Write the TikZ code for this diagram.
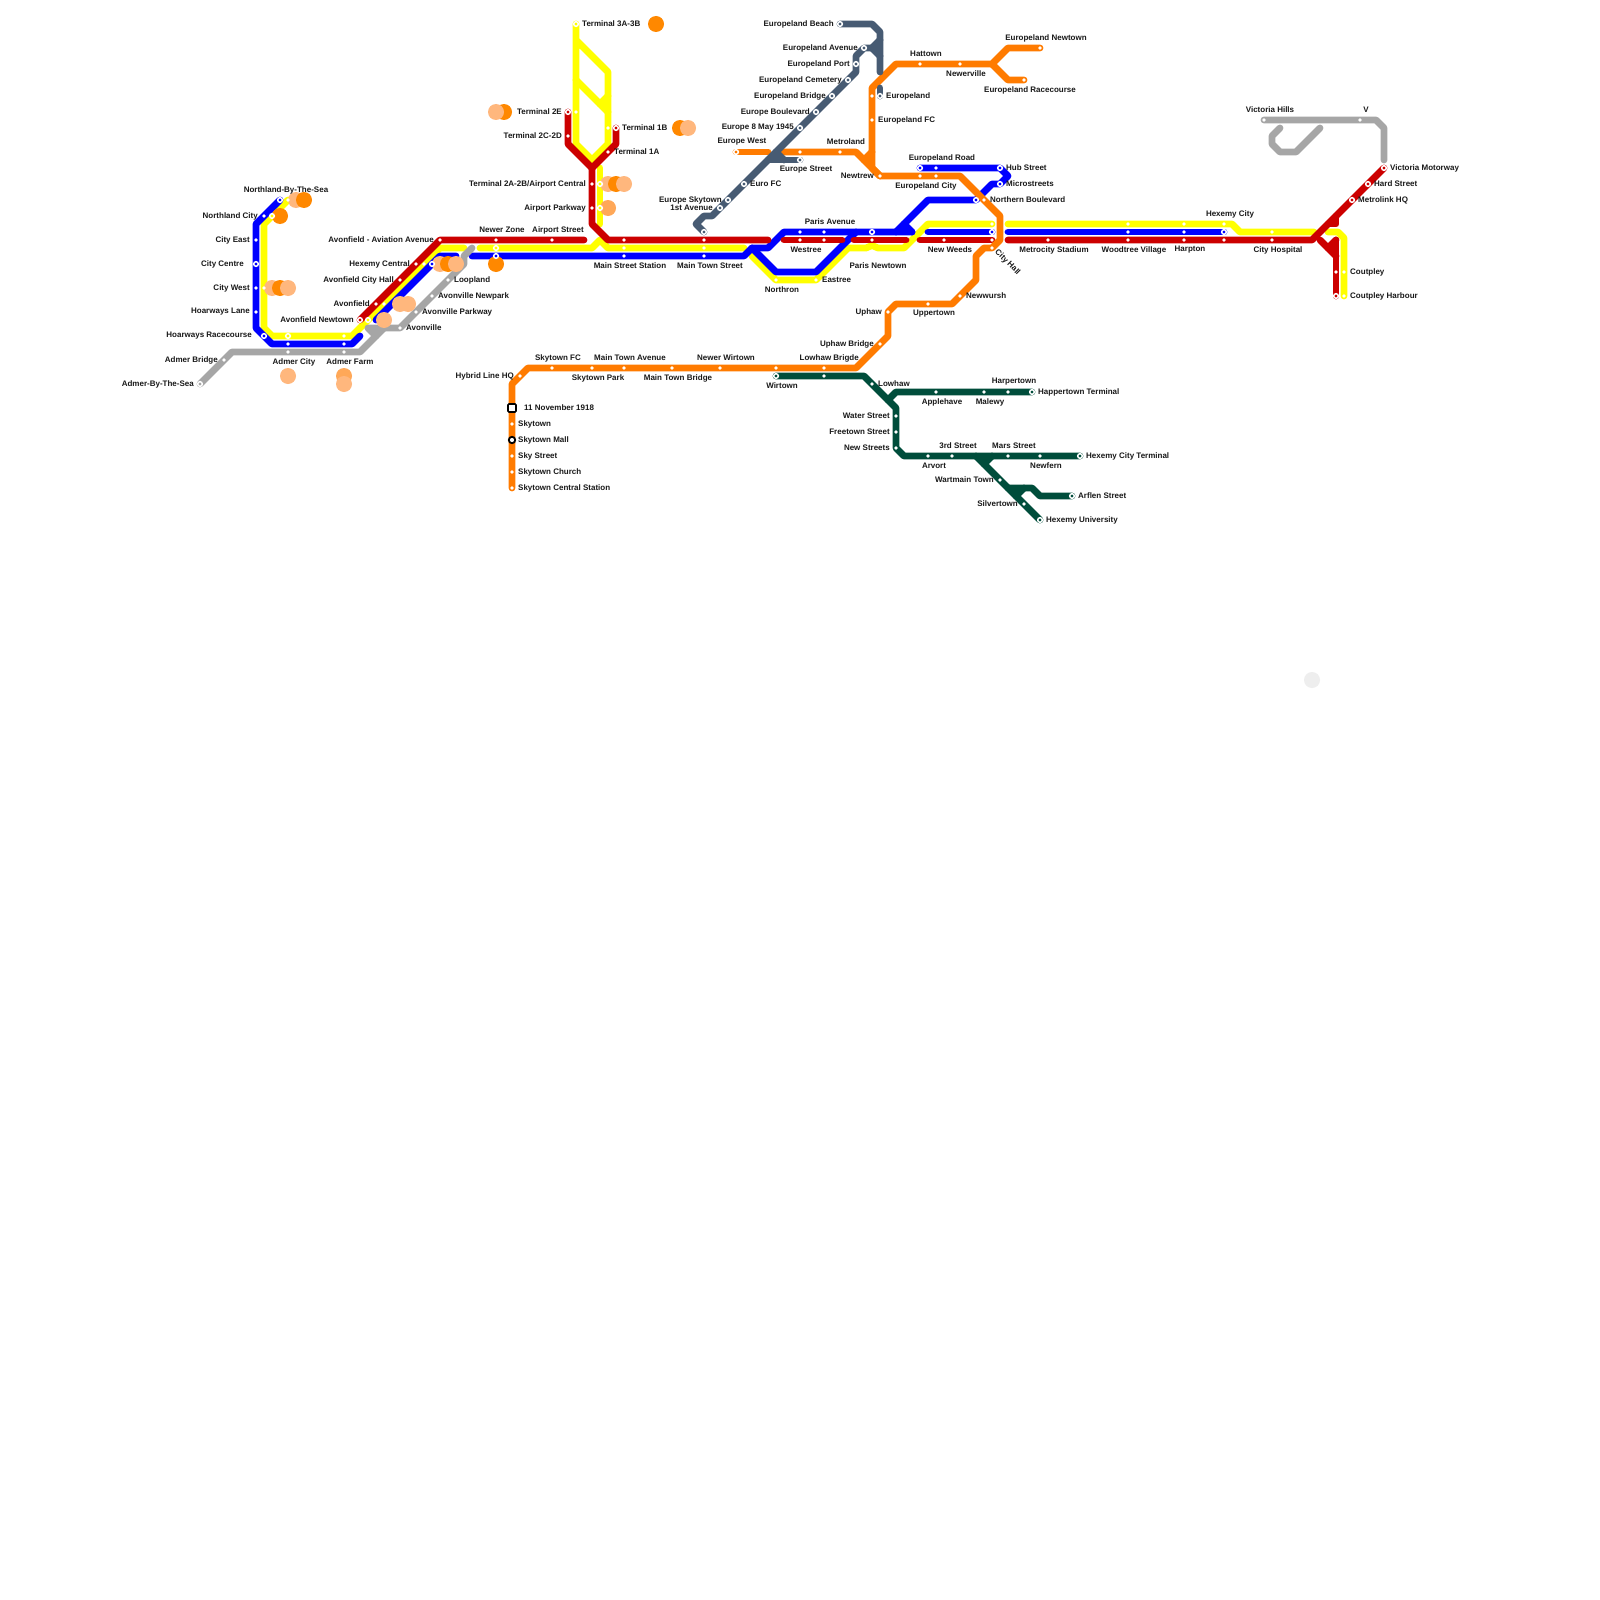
\documentclass[tikz,border=0pt]{standalone}
\usepackage{fontspec}
\setmainfont{Liberation Sans}
\pgfdeclarelayer{lines}
\pgfdeclarelayer{blobs}
\pgfsetlayers{lines,blobs,main}
\definecolor{cO}{HTML}{FF7B00}
\definecolor{cR}{HTML}{CC0000}
\definecolor{cB}{HTML}{0000FF}
\definecolor{cY}{HTML}{FFFF00}
\definecolor{cA}{HTML}{A6A6A6}
\definecolor{cG}{HTML}{004D3B}
\definecolor{cS}{HTML}{475B73}
\definecolor{bO}{HTML}{FF8800}
\definecolor{bL}{HTML}{FFB77D}
\definecolor{bM}{HTML}{FFA858}
\definecolor{bE}{HTML}{EEEEEE}
\tikzset{
  x=1pt,y=-1pt,
  dot/.style={circle,inner sep=0pt,minimum size=3.8pt,fill=white},
  ring/.style={circle,inner sep=0pt,minimum size=4.6pt,line width=1.5pt,draw=white,fill=#1},
  rail/.style={draw=#1,line width=6.8pt,line cap=round,line join=round},
  blob/.style={circle,inner sep=0pt,minimum size=16pt,fill=#1},
  sq/.style={draw=black,fill=white,line width=1.6pt,rounded corners=1pt,inner sep=0pt,minimum size=8pt},
  bl/.style={circle,draw=black,fill=white,line width=1.8pt,inner sep=0pt,minimum size=6.4pt},
  lab/.style={font=\fontsize{8}{9}\selectfont\bfseries,inner sep=0pt,text=black!90,yshift=-1pt},
  lw/.style={lab,anchor=west},
  le/.style={lab,anchor=east},
  lc/.style={lab,anchor=center},
}
\begin{document}
\begin{tikzpicture}
\useasboundingbox (0,0) rectangle (1600,1600);
\begin{pgfonlayer}{lines}\fill[white] (0,0) rectangle (1600,1600);\end{pgfonlayer}

% ---------- stations
% yellow
\node[dot] (y1) at (288,200) {};
\node[ring=cY] (y2) at (272,216) {};
\node[dot] (y3) at (264,288) {};
\node[ring=cY] (y4) at (288,336) {};
\node[dot] (y5) at (344,336) {};
\node[ring=cY] (y6) at (368,320) {};
\node[dot] (y7) at (384,304) {};
\node[dot] (y8) at (424,264) {};
\node[ring=cY] (y9) at (496,248) {};
\node[dot] (y10) at (624,248) {};
\node[dot] (y11) at (704,248) {};
\node[dot] (y12) at (776,280) {};
\node[dot] (y13) at (816,280) {};
\node[dot] (y14) at (992,224) {};
\node[dot] (y15) at (1128,224) {};
\node[dot] (y16) at (1184,224) {};
\node[dot] (y17) at (1224,224) {};
\node[dot] (y18) at (1272,232) {};
\node[dot] (y19) at (1344,272) {};
\node[dot] (y20) at (1344,296) {};
\node[ring=cY] (y21) at (576,24) {};
\node[dot] (y22) at (576,112) {};
\node[dot] (y23) at (608,128) {};
\node[ring=cY] (y24) at (600,184) {};
\node[ring=cY] (y25) at (600,208) {};
% blue
\node[ring=cB] (b1) at (280,200) {};
\node[dot] (b2) at (264,216) {};
\node[dot] (b3) at (256,240) {};
\node[ring=cB] (b4) at (256,264) {};
\node[dot] (b5) at (256,288) {};
\node[dot] (b6) at (256,312) {};
\node[ring=cB] (b7) at (264,336) {};
\node[dot] (b8) at (288,344) {};
\node[dot] (b9) at (344,344) {};
\node[ring=cB] (b10) at (432,264) {};
\node[ring=cB] (b11) at (496,256) {};
\node[dot] (b12) at (624,256) {};
\node[dot] (b13) at (704,256) {};
\node[dot] (b14) at (800,232) {};
\node[dot] (b15) at (824,232) {};
\node[ring=cB] (b16) at (872,232) {};
\node[ring=cB] (b17) at (992,232) {};
\node[dot] (b18) at (1128,232) {};
\node[dot] (b19) at (1184,232) {};
\node[ring=cB] (b20) at (1224,232) {};
\node[ring=cB] (b21) at (976,200) {};
\node[ring=cB] (b22) at (1000,184) {};
\node[ring=cB] (b23) at (1000,168) {};
\node[dot] (b24) at (936,168) {};
\node[ring=cB] (b25) at (920,168) {};
% red
\node[ring=cR] (r1) at (360,320) {};
\node[dot] (r2) at (376,304) {};
\node[dot] (r3) at (400,280) {};
\node[dot] (r4) at (416,264) {};
\node[dot] (r5) at (440,240) {};
\node[dot] (r6) at (496,240) {};
\node[dot] (r7) at (552,240) {};
\node[dot] (r8) at (624,240) {};
\node[dot] (r9) at (704,240) {};
\node[dot] (r10) at (800,240) {};
\node[dot] (r11) at (824,240) {};
\node[dot] (r12) at (872,240) {};
\node[dot] (r13) at (944,240) {};
\node[dot] (r14) at (992,240) {};
\node[dot] (r15) at (1048,240) {};
\node[dot] (r16) at (1128,240) {};
\node[dot] (r17) at (1184,240) {};
\node[dot] (r18) at (1224,240) {};
\node[dot] (r19) at (1272,240) {};
\node[ring=cR] (r20) at (1384,168) {};
\node[ring=cR] (r21) at (1368,184) {};
\node[ring=cR] (r22) at (1352,200) {};
\node[dot] (r23) at (1336,272) {};
\node[ring=cR] (r24) at (1336,296) {};
\node[ring=cR] (r25) at (568,112) {};
\node[dot] (r26) at (568,136) {};
\node[ring=cR] (r27) at (616,128) {};
\node[dot] (r28) at (608,152) {};
\node[dot] (r29) at (592,184) {};
\node[dot] (r30) at (592,208) {};
% grey
\node[ring=cA] (a1) at (200,384) {};
\node[dot] (a2) at (224,360) {};
\node[dot] (a3) at (288,352) {};
\node[dot] (a4) at (344,352) {};
\node[dot] (a5) at (400,328) {};
\node[dot] (a6) at (416,312) {};
\node[dot] (a7) at (432,296) {};
\node[dot] (a8) at (448,280) {};
\node[dot] (a9) at (1264,120) {};
\node[dot] (a10) at (1360,120) {};
% orange
\node[ring=cO] (o1) at (736,152) {};
\node[dot] (o2) at (800,152) {};
\node[dot] (o3) at (840,152) {};
\node[dot] (o4) at (872,96) {};
\node[dot] (o5) at (872,120) {};
\node[dot] (o6) at (920,64) {};
\node[dot] (o7) at (960,64) {};
\node[dot] (o8) at (1040,48) {};
\node[dot] (o9) at (1024,80) {};
\node[dot] (o10) at (880,176) {};
\node[dot] (o11) at (920,176) {};
\node[dot] (o12) at (936,176) {};
\node[dot] (o13) at (984,200) {};
\node[dot] (o14) at (992,248) {};
\node[dot] (o15) at (960,296) {};
\node[dot] (o16) at (928,304) {};
\node[dot] (o17) at (888,312) {};
\node[dot] (o18) at (880,344) {};
\node[dot] (o19) at (824,368) {};
\node[dot] (o20) at (776,368) {};
\node[dot] (o21) at (720,368) {};
\node[dot] (o22) at (672,368) {};
\node[dot] (o23) at (624,368) {};
\node[dot] (o24) at (592,368) {};
\node[dot] (o25) at (552,368) {};
\node[dot] (o26) at (520,376) {};
\node[sq] (o27) at (512,408) {};
\node[dot] (o28) at (512,424) {};
\node[bl] (o29) at (512,440) {};
\node[dot] (o30) at (512,456) {};
\node[dot] (o31) at (512,472) {};
\node[dot] (o32) at (512,488) {};
% green
\node[ring=cG] (g1) at (776,376) {};
\node[dot] (g2) at (824,376) {};
\node[dot] (g3) at (872,384) {};
\node[dot] (g4) at (936,392) {};
\node[dot] (g5) at (984,392) {};
\node[dot] (g6) at (1008,392) {};
\node[ring=cG] (g7) at (1032,392) {};
\node[dot] (g8) at (896,416) {};
\node[dot] (g9) at (896,432) {};
\node[dot] (g10) at (896,448) {};
\node[dot] (g11) at (928,456) {};
\node[dot] (g12) at (952,456) {};
\node[dot] (g13) at (1008,456) {};
\node[dot] (g14) at (1040,456) {};
\node[ring=cG] (g15) at (1080,456) {};
\node[dot] (g16) at (1000,480) {};
\node[dot] (g17) at (1024,504) {};
\node[ring=cG] (g18) at (1040,520) {};
\node[ring=cG] (g19) at (1072,496) {};
% slate
\node[ring=cS] (s1) at (840,24) {};
\node[ring=cS] (s2) at (864,48) {};
\node[ring=cS] (s3) at (856,64) {};
\node[ring=cS] (s4) at (848,80) {};
\node[ring=cS] (s5) at (832,96) {};
\node[ring=cS] (s6) at (816,112) {};
\node[ring=cS] (s7) at (800,128) {};
\node[ring=cS] (s8) at (880,96) {};
\node[ring=cS] (s9) at (800,160) {};
\node[ring=cS] (s10) at (744,184) {};
\node[ring=cS] (s11) at (728,200) {};
\node[ring=cS] (s12) at (720,208) {};
\node[ring=cS] (s13) at (704,232) {};

% ---------- bends
\coordinate (k1) at (264,224);\coordinate (k2) at (264,328);\coordinate (k3) at (272,336);
\coordinate (k4) at (352,336);\coordinate (k5) at (440,248);\coordinate (k6) at (464,248);
\coordinate (k7) at (480,248);\coordinate (k8) at (592,248);\coordinate (k9) at (600,240);
\coordinate (k10) at (608,248);\coordinate (k11) at (744,248);\coordinate (k12) at (752,256);
\coordinate (k13) at (848,248);\coordinate (k14) at (866,248);\coordinate (k15) at (872,245.5);
\coordinate (k16) at (878,248);\coordinate (k17) at (904,248);\coordinate (k18) at (928,224);
\coordinate (k19) at (1008,224);\coordinate (k20) at (1232,224);\coordinate (k21) at (1240,232);
\coordinate (k22) at (1314,232);\coordinate (k23) at (1328,232);\coordinate (k24) at (1338,232);
\coordinate (k25) at (1344,238);\coordinate (k26) at (576,144);\coordinate (k27) at (592,160);
\coordinate (k28) at (608,144);\coordinate (k29) at (608,72);\coordinate (k30) at (576,40);
\coordinate (k31) at (576,80);\coordinate (k32) at (608,112);\coordinate (k33) at (600,104);
\coordinate (k34) at (608,96);\coordinate (k35) at (600,168);\coordinate (k36) at (600,224);
% blue bends
\coordinate (m1) at (256,224);\coordinate (m2) at (256,328);\coordinate (m3) at (272,344);
\coordinate (m4) at (352,344);\coordinate (m5) at (360,336);\coordinate (m6) at (376,320);
\coordinate (m7) at (440,256);\coordinate (m8) at (456,256);\coordinate (m9) at (472,256);
\coordinate (m10) at (744,256);\coordinate (m11) at (752,248);\coordinate (m12) at (768,248);
\coordinate (m13) at (784,232);\coordinate (m14) at (912,232);\coordinate (m15) at (776,272);
\coordinate (m16) at (816,272);\coordinate (m17) at (856,232);\coordinate (m18) at (896,232);
\coordinate (m19) at (928,200);\coordinate (m20) at (904,224);\coordinate (m21) at (928,232);
\coordinate (m22) at (1008,232);\coordinate (m23) at (992,184);\coordinate (m24) at (1008,176);
% red bends
\coordinate (h1) at (584,240);\coordinate (h2) at (592,224);\coordinate (h3) at (608,240);
\coordinate (h4) at (768,240);\coordinate (h5) at (784,240);\coordinate (h6) at (842,240);
\coordinate (h7) at (854,240);\coordinate (h8) at (906,240);\coordinate (h9) at (920,240);
\coordinate (h10) at (1008,240);\coordinate (h11) at (1312,240);\coordinate (h12) at (1320,240);
\coordinate (h13) at (1336,256);\coordinate (h14) at (1336,240);\coordinate (h15) at (1328,248);
\coordinate (h16) at (1336,216);\coordinate (h17) at (1336,224);\coordinate (h18) at (1328,224);
\coordinate (h19) at (568,144);\coordinate (h20) at (592,168);\coordinate (h21) at (616,144);
% grey bends
\coordinate (e1) at (232,352);\coordinate (e2) at (360,352);\coordinate (e3) at (384,328);
\coordinate (e4) at (368,328);\coordinate (e5) at (376,336);\coordinate (e6) at (464,264);
\coordinate (e7) at (464,256);\coordinate (e8) at (472,248);\coordinate (e9) at (1376,120);
\coordinate (e10) at (1384,128);\coordinate (e11) at (1384,160);\coordinate (e12) at (1280,128);
\coordinate (e13) at (1272,136);\coordinate (e14) at (1272,144);\coordinate (e15) at (1280,152);
\coordinate (e16) at (1296,152);\coordinate (e17) at (1320,128);
% orange bends
\coordinate (f1) at (768,152);\coordinate (f2) at (784,152);\coordinate (f3) at (856,152);
\coordinate (f4) at (960,176);\coordinate (f5) at (1000,216);\coordinate (f6) at (1000,240);
\coordinate (f7) at (984,248);\coordinate (f8) at (976,256);\coordinate (f9) at (976,280);
\coordinate (f10) at (952,304);\coordinate (f11) at (896,304);\coordinate (f12) at (888,336);
\coordinate (f13) at (856,368);\coordinate (f14) at (528,368);\coordinate (f15) at (512,384);
\coordinate (f16) at (872,168);\coordinate (f17) at (872,88);\coordinate (f18) at (896,64);
\coordinate (f19) at (992,64);\coordinate (f20) at (1008,48);\coordinate (f21) at (1008,80);
\coordinate (f22) at (864,160);\coordinate (f23) at (872,152);
% green bends
\coordinate (q1) at (864,376);\coordinate (q2) at (896,408);\coordinate (q3) at (896,448);
\coordinate (q4) at (904,456);\coordinate (q5) at (888,400);\coordinate (q6) at (896,392);
\coordinate (q7) at (976,456);\coordinate (q8) at (984,464);\coordinate (q9) at (992,456);
\coordinate (q10) at (1008,488);\coordinate (q11) at (1032,488);\coordinate (q12) at (1040,496);
\coordinate (q13) at (1016,496);\coordinate (q14) at (1024,488);
% slate bends
\coordinate (t1) at (872,24);\coordinate (t2) at (880,32);\coordinate (t3) at (880,72);
\coordinate (t4) at (880,88);\coordinate (t5) at (872,48);\coordinate (t6) at (880,40);
\coordinate (t7) at (880,56);\coordinate (t8) at (856,56);\coordinate (t9) at (856,72);
\coordinate (t10) at (712,216);\coordinate (t11) at (704,216);\coordinate (t12) at (696,224);
\coordinate (t13) at (768,160);\coordinate (t14) at (776,152);\coordinate (t15) at (784,160);

% ---------- lines
\begin{pgfonlayer}{lines}
% yellow
\draw[rail=cY] (y1.center) -- (k1) -- (k2) -- (k3) -- (k4) -- (k5) -- (k6);
\draw[rail=cY] (k7) -- (k8) -- (k9) -- (k10) -- (k11);
\draw[rail=cY] (k12) -- (y12.center) -- (y13.center) -- (k13) -- (k14) -- (k15) -- (k16) -- (k17) -- (k18) -- (y14.center);
\draw[rail=cY] (k19) -- (k20) -- (k21) -- (k22);
\draw[rail=cY] (k23) -- (k24) -- (k25) -- (y20.center);
\draw[rail=cY] (y21.center) -- (k26) -- (k27) -- (k28) -- (k29) -- (k30);
\draw[rail=cY] (k31) -- (k32);
\draw[rail=cY] (k33) -- (k34);
\draw[rail=cY] (k35) -- (k36);
% blue
\draw[rail=cB] (b1.center) -- (m1) -- (m2) -- (m3) -- (m4) -- (m5);
\draw[rail=cB] (m6) -- (m7) -- (m8);
\draw[rail=cB] (m9) -- (m10) -- (m11) -- (m12) -- (m13) -- (m14);
\draw[rail=cB] (m11) -- (m15) -- (m16) -- (m17);
\draw[rail=cB] (m18) -- (m19) -- (b21.center) -- (m23) -- (b22.center) -- (m24) -- (b23.center) -- (b25.center);
\draw[rail=cB] (m20) -- (m14);
\draw[rail=cB] (m21) -- (b17.center);
\draw[rail=cB] (m22) -- (b20.center);
% red
\draw[rail=cR] (r1.center) -- (r5.center) -- (h1);
\draw[rail=cR] (r25.center) -- (h19) -- (h20) -- (h21) -- (r27.center);
\draw[rail=cR] (h20) -- (h2) -- (h3) -- (h4);
\draw[rail=cR] (h5) -- (h6);
\draw[rail=cR] (h7) -- (h8);
\draw[rail=cR] (h9) -- (r14.center);
\draw[rail=cR] (h10) -- (h11) -- (r20.center);
\draw[rail=cR] (h12) -- (h13);
\draw[rail=cR] (h14) -- (r24.center);
\draw[rail=cR] (h15) -- (h14);
\draw[rail=cR] (h16) -- (h17) -- (h18);
% grey
\draw[rail=cA] (a1.center) -- (e1) -- (e2) -- (e3);
\draw[rail=cA] (e5) -- (e4) -- (a5.center) -- (e6) -- (e7) -- (e8);
\draw[rail=cA] (a9.center) -- (e9) -- (e10) -- (e11);
\draw[rail=cA] (e12) -- (e13) -- (e14) -- (e15) -- (e16) -- (e17);
% green
\draw[rail=cG] (g1.center) -- (q1) -- (q2) -- (q3) -- (q4) -- (g15.center);
\draw[rail=cG] (q5) -- (q6) -- (g7.center);
\draw[rail=cG] (q7) -- (g18.center);
\draw[rail=cG] (q8) -- (q9);
\draw[rail=cG] (q10) -- (q11) -- (q12) -- (g19.center);
\draw[rail=cG] (q13) -- (q14);
% orange
\draw[rail=cO] (o1.center) -- (f1);
\draw[rail=cO] (f2) -- (f3) -- (o10.center) -- (f4) -- (f5) -- (f6) -- (o14.center) -- (f7) -- (f8) -- (f9) -- (f10) -- (f11) -- (o17.center) -- (f12) -- (f13) -- (f14) -- (f15) -- (o32.center);
\draw[rail=cO] (o10.center) -- (f16) -- (f17) -- (f18) -- (f19) -- (f20) -- (o8.center);
\draw[rail=cO] (f19) -- (f21) -- (o9.center);
\draw[rail=cO] (f22) -- (f23);
% slate
\draw[rail=cS] (s1.center) -- (t1) -- (t2) -- (t3);
\draw[rail=cS] (t4) -- (s8.center);
\draw[rail=cS] (t6) -- (t5) -- (t7);
\draw[rail=cS] (t5) -- (s2.center) -- (t8) -- (t9) -- (t10) -- (t11) -- (t12) -- (s13.center);
\draw[rail=cS] (t13) -- (s9.center);
\draw[rail=cS] (t14) -- (t15);
\end{pgfonlayer}

% ---------- interchange discs
\begin{pgfonlayer}{blobs}
\node[blob=bL] (c1) at (296,200) {};
\node[blob=bO] (c2) at (304,200) {};
\node[blob=bO] (c3) at (280,216) {};
\node[blob=bL] (c4) at (272,288) {};
\node[blob=bO] (c5) at (280,288) {};
\node[blob=bL] (c6) at (288,288) {};
\node[blob=bL] (c7) at (400,304) {};
\node[blob=bL] (c8) at (408,304) {};
\node[blob=bL] (c9) at (384,320) {};
\node[blob=bL] (c10) at (440,264) {};
\node[blob=bO] (c11) at (448,264) {};
\node[blob=bL] (c12) at (456,264) {};
\node[blob=bL] (c13) at (288,376) {};
\node[blob=bM] (c14) at (344,376) {};
\node[blob=bL] (c15) at (344,384) {};
\node[blob=bO] (c16) at (496,264) {};
\node[blob=bO] (c17) at (656,24) {};
\node[blob=bO] (c18) at (504,112) {};
\node[blob=bL] (c19) at (496,112) {};
\node[blob=bL] (c20) at (608,184) {};
\node[blob=bO] (c21) at (616,184) {};
\node[blob=bL] (c22) at (624,184) {};
\node[blob=bM] (c23) at (608,208) {};
\node[blob=bO] (c24) at (680,128) {};
\node[blob=bL] (c25) at (688,128) {};
\node[blob=bE] (c26) at (1312,680) {};
\end{pgfonlayer}

% ---------- labels
\node[lc] (l1) at (286,189) {Northland-By-The-Sea};
\node[le] (l2) at (258,215) {Northland City};
\node[le] (l3) at (250,239) {City East};
\node[le] (l4) at (244,263) {City Centre};
\node[le] (l5) at (250,287) {City West};
\node[le] (l6) at (250,311) {Hoarways Lane};
\node[le] (l7) at (252,335) {Hoarways Racecourse};
\node[le] (l8) at (218,359) {Admer Bridge};
\node[le] (l9) at (194,383) {Admer-By-The-Sea};
\node[lc] (l10) at (294,361) {Admer City};
\node[lc] (l11) at (350,361) {Admer Farm};
\node[le] (l12) at (434,239) {Avonfield - Aviation Avenue};
\node[le] (l13) at (410,263) {Hexemy Central};
\node[le] (l14) at (394,279) {Avonfield City Hall};
\node[le] (l15) at (370,303) {Avonfield};
\node[le] (l16) at (354,319) {Avonfield Newtown};
\node[lw] (l17) at (406,327) {Avonville};
\node[lw] (l18) at (422,311) {Avonville Parkway};
\node[lw] (l19) at (438,295) {Avonville Newpark};
\node[lw] (l20) at (454,279) {Loopland};
\node[lc] (l21) at (502,229) {Newer Zone};
\node[lc] (l22) at (558,229) {Airport Street};
\node[lw] (l23) at (582,23) {Terminal 3A-3B};
\node[le] (l24) at (562,111) {Terminal 2E};
\node[le] (l25) at (562,135) {Terminal 2C-2D};
\node[lw] (l26) at (622,127) {Terminal 1B};
\node[lw] (l27) at (614,151) {Terminal 1A};
\node[le] (l28) at (586,183) {Terminal 2A-2B/Airport Central};
\node[le] (l29) at (586,207) {Airport Parkway};
\node[lc] (l30) at (630,265) {Main Street Station};
\node[lc] (l31) at (710,265) {Main Town Street};
\node[lc] (l32) at (742,141) {Europe West};
\node[le] (l33) at (722,199) {Europe Skytown};
\node[le] (l34) at (713,207) {1st Avenue};
\node[lw] (l35) at (750,183) {Euro FC};
\node[lc] (l36) at (806,169) {Europe Street};
\node[le] (l37) at (794,127) {Europe 8 May 1945};
\node[le] (l38) at (810,111) {Europe Boulevard};
\node[le] (l39) at (826,95) {Europeland Bridge};
\node[le] (l40) at (842,79) {Europeland Cemetery};
\node[le] (l41) at (850,63) {Europeland Port};
\node[le] (l42) at (858,47) {Europeland Avenue};
\node[le] (l43) at (834,23) {Europeland Beach};
\node[lw] (l44) at (886,95) {Europeland};
\node[lw] (l45) at (878,119) {Europeland FC};
\node[lc] (l46) at (926,53) {Hattown};
\node[lc] (l47) at (966,73) {Newerville};
\node[lc] (l48) at (1046,37) {Europeland Newtown};
\node[lc] (l49) at (1030,89) {Europeland Racecourse};
\node[lc] (l50) at (846,141) {Metroland};
\node[le] (l51) at (874,175) {Newtrew};
\node[lc] (l52) at (942,157) {Europeland Road};
\node[lc] (l53) at (926,185) {Europeland City};
\node[lw] (l54) at (1006,167) {Hub Street};
\node[lw] (l55) at (1006,183) {Microstreets};
\node[lw] (l56) at (990,199) {Northern Boulevard};
\node[lc] (l57) at (830,221) {Paris Avenue};
\node[lc] (l58) at (806,249) {Westree};
\node[lc] (l59) at (782,289) {Northron};
\node[lw] (l60) at (822,279) {Eastree};
\node[lc] (l61) at (878,265) {Paris Newtown};
\node[lc] (l62) at (950,249) {New Weeds};
\node[lab,anchor=west,rotate=-45] (l63) at (996,250) {City Hall};
\node[lc] (l64) at (1054,249) {Metrocity Stadium};
\node[lc] (l65) at (1134,249) {Woodtree Village};
\node[lc] (l66) at (1190,249) {Harpton};
\node[lc] (l67) at (1278,249) {City Hospital};
\node[lc] (l68) at (1230,213) {Hexemy City};
\node[lc] (l69) at (1270,109) {Victoria Hills};
\node[lc] (l70) at (1366,109) {V};
\node[lw] (l71) at (1390,167) {Victoria Motorway};
\node[lw] (l72) at (1374,183) {Hard Street};
\node[lw] (l73) at (1358,199) {Metrolink HQ};
\node[lw] (l74) at (1350,271) {Coutpley};
\node[lw] (l75) at (1350,295) {Coutpley Harbour};
\node[lw] (l76) at (966,295) {Newwursh};
\node[le] (l77) at (882,311) {Uphaw};
\node[lc] (l78) at (934,313) {Uppertown};
\node[le] (l79) at (874,343) {Uphaw Bridge};
\node[le] (l80) at (859,357) {Lowhaw Brigde};
\node[le] (l81) at (514,375) {Hybrid Line HQ};
\node[lc] (l82) at (558,357) {Skytown FC};
\node[lc] (l83) at (598,377) {Skytown Park};
\node[lc] (l84) at (630,357) {Main Town Avenue};
\node[lc] (l85) at (678,377) {Main Town Bridge};
\node[lc] (l86) at (726,357) {Newer Wirtown};
\node[lc] (l87) at (782,385) {Wirtown};
\node[lw] (l88) at (524,407) {11 November 1918};
\node[lw] (l89) at (518,423) {Skytown};
\node[lw] (l90) at (518,439) {Skytown Mall};
\node[lw] (l91) at (518,455) {Sky Street};
\node[lw] (l92) at (518,471) {Skytown Church};
\node[lw] (l93) at (518,487) {Skytown Central Station};
\node[lw] (l94) at (878,383) {Lowhaw};
\node[lc] (l95) at (942,401) {Applehave};
\node[lc] (l96) at (990,401) {Malewy};
\node[lc] (l97) at (1014,381) {Harpertown};
\node[lw] (l98) at (1038,391) {Happertown Terminal};
\node[le] (l99) at (890,415) {Water Street};
\node[le] (l100) at (890,431) {Freetown Street};
\node[le] (l101) at (890,447) {New Streets};
\node[lc] (l102) at (934,465) {Arvort};
\node[lc] (l103) at (958,445) {3rd Street};
\node[lc] (l104) at (1014,445) {Mars Street};
\node[lc] (l105) at (1046,465) {Newfern};
\node[lw] (l106) at (1086,455) {Hexemy City Terminal};
\node[le] (l107) at (994,479) {Wartmain Town};
\node[le] (l108) at (1018,503) {Silvertown};
\node[lw] (l109) at (1078,495) {Arflen Street};
\node[lw] (l110) at (1046,519) {Hexemy University};
\end{tikzpicture}
\end{document}
